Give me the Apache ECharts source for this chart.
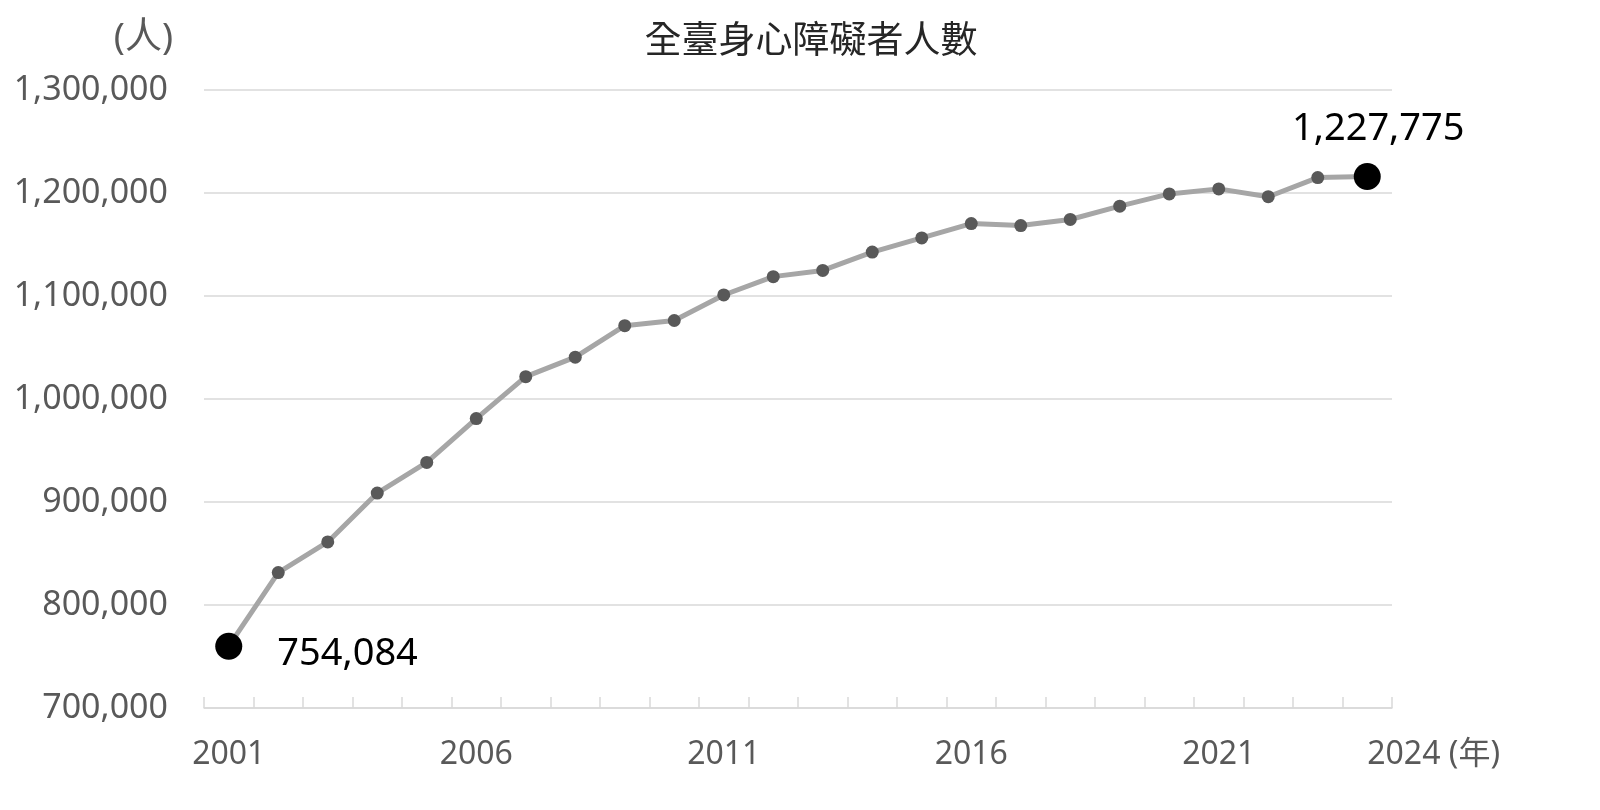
<!DOCTYPE html>
<html>
<head>
<meta charset="utf-8">
<script src="https://cdn.jsdelivr.net/npm/echarts@6/dist/echarts.min.js"></script>
<style>
html,body{margin:0;padding:0;background:#fff;}
#chart{width:1600px;height:810px;}
</style>
</head>
<body>
<div id="chart"></div>
<script>
const titleText = '全臺身心障礙者人數';
const yUnit = '(人)';
const xUnit = '(年)';
const years = ['2001','2002','2003','2004','2005','2006','2007','2008','2009','2010','2011','2012','2013','2014','2015','2016','2017','2018','2019','2020','2021','2022','2023','2024'];
const values = [760000, 831500, 861200, 908700, 938400, 981000, 1021700, 1040600, 1071200, 1076200, 1101000, 1118800, 1124800, 1142600, 1156400, 1170300, 1168400, 1174300, 1187200, 1199100, 1204000, 1196400, 1215000, 1216000];
const firstLabel = '754,084';
const lastLabel = '1,227,775';
const yMin = 700000, yMax = 1300000, yStep = 100000;
const shownYearIdx = [0, 5, 10, 15, 20, 23];

const FONT = "'Noto Sans', 'Noto Sans CJK TC', sans-serif";

const seriesData = values.map((v, i) => {
  if (i === 0) {
    return { value: v, symbolSize: 27, itemStyle: { color: '#000' },
      label: { show: true, position: 'right', distance: 35, offset: [0, 8], formatter: firstLabel,
        color: '#000', fontSize: 38, fontFamily: FONT } };
  }
  if (i === values.length - 1) {
    return { value: v, symbolSize: 27, itemStyle: { color: '#000' },
      label: { show: true, position: 'top', distance: 15, offset: [11, 0], formatter: lastLabel,
        color: '#000', fontSize: 38, fontFamily: FONT } };
  }
  return v;
});

const chart = echarts.init(document.getElementById('chart'), null, { renderer: 'canvas' });
chart.setOption({
  backgroundColor: '#fff',
  animation: false,
  title: {
    text: titleText, left: 806, top: 15, textAlign: 'center',
    textStyle: { fontFamily: "'Noto Sans CJK TC', sans-serif", fontSize: 37, fontWeight: 'normal', color: '#262626' }
  },
  grid: { left: 204, right: 208, top: 90, bottom: 102, containLabel: false },
  xAxis: {
    type: 'category',
    data: years,
    boundaryGap: true,
    axisLine: { lineStyle: { color: '#d9d9d9', width: 1.5 } },
    axisTick: { show: true, inside: true, length: 11, interval: 0, lineStyle: { color: '#d9d9d9', width: 1.5 } },
    axisLabel: {
      interval: (idx) => shownYearIdx.indexOf(idx) >= 0,
      formatter: (val, idx) => idx === years.length - 1 ? val + ' ' + xUnit : val,
      alignMaxLabel: 'left',
      margin: 31, color: '#595959', fontSize: 32, fontFamily: FONT
    },
    splitLine: { show: false }
  },
  yAxis: {
    type: 'value',
    min: yMin, max: yMax, interval: yStep,
    name: yUnit,
    nameLocation: 'end',
    nameGap: 52,
    nameTextStyle: { color: '#595959', fontSize: 37, fontFamily: FONT, align: 'right', verticalAlign: 'middle', padding: [0, 31, 0, 0] },
    axisLine: { show: false },
    axisTick: { show: false },
    axisLabel: {
      margin: 36, color: '#595959', fontSize: 34, fontFamily: FONT,
      formatter: (v) => v.toLocaleString('en-US')
    },
    splitLine: { lineStyle: { color: '#d9d9d9', width: 1.5 } }
  },
  series: [{
    type: 'line',
    data: seriesData,
    symbol: 'circle',
    symbolSize: 13,
    lineStyle: { color: '#a6a6a6', width: 5 },
    itemStyle: { color: '#595959' },
    z: 3
  }]
});
</script>
</body>
</html>
